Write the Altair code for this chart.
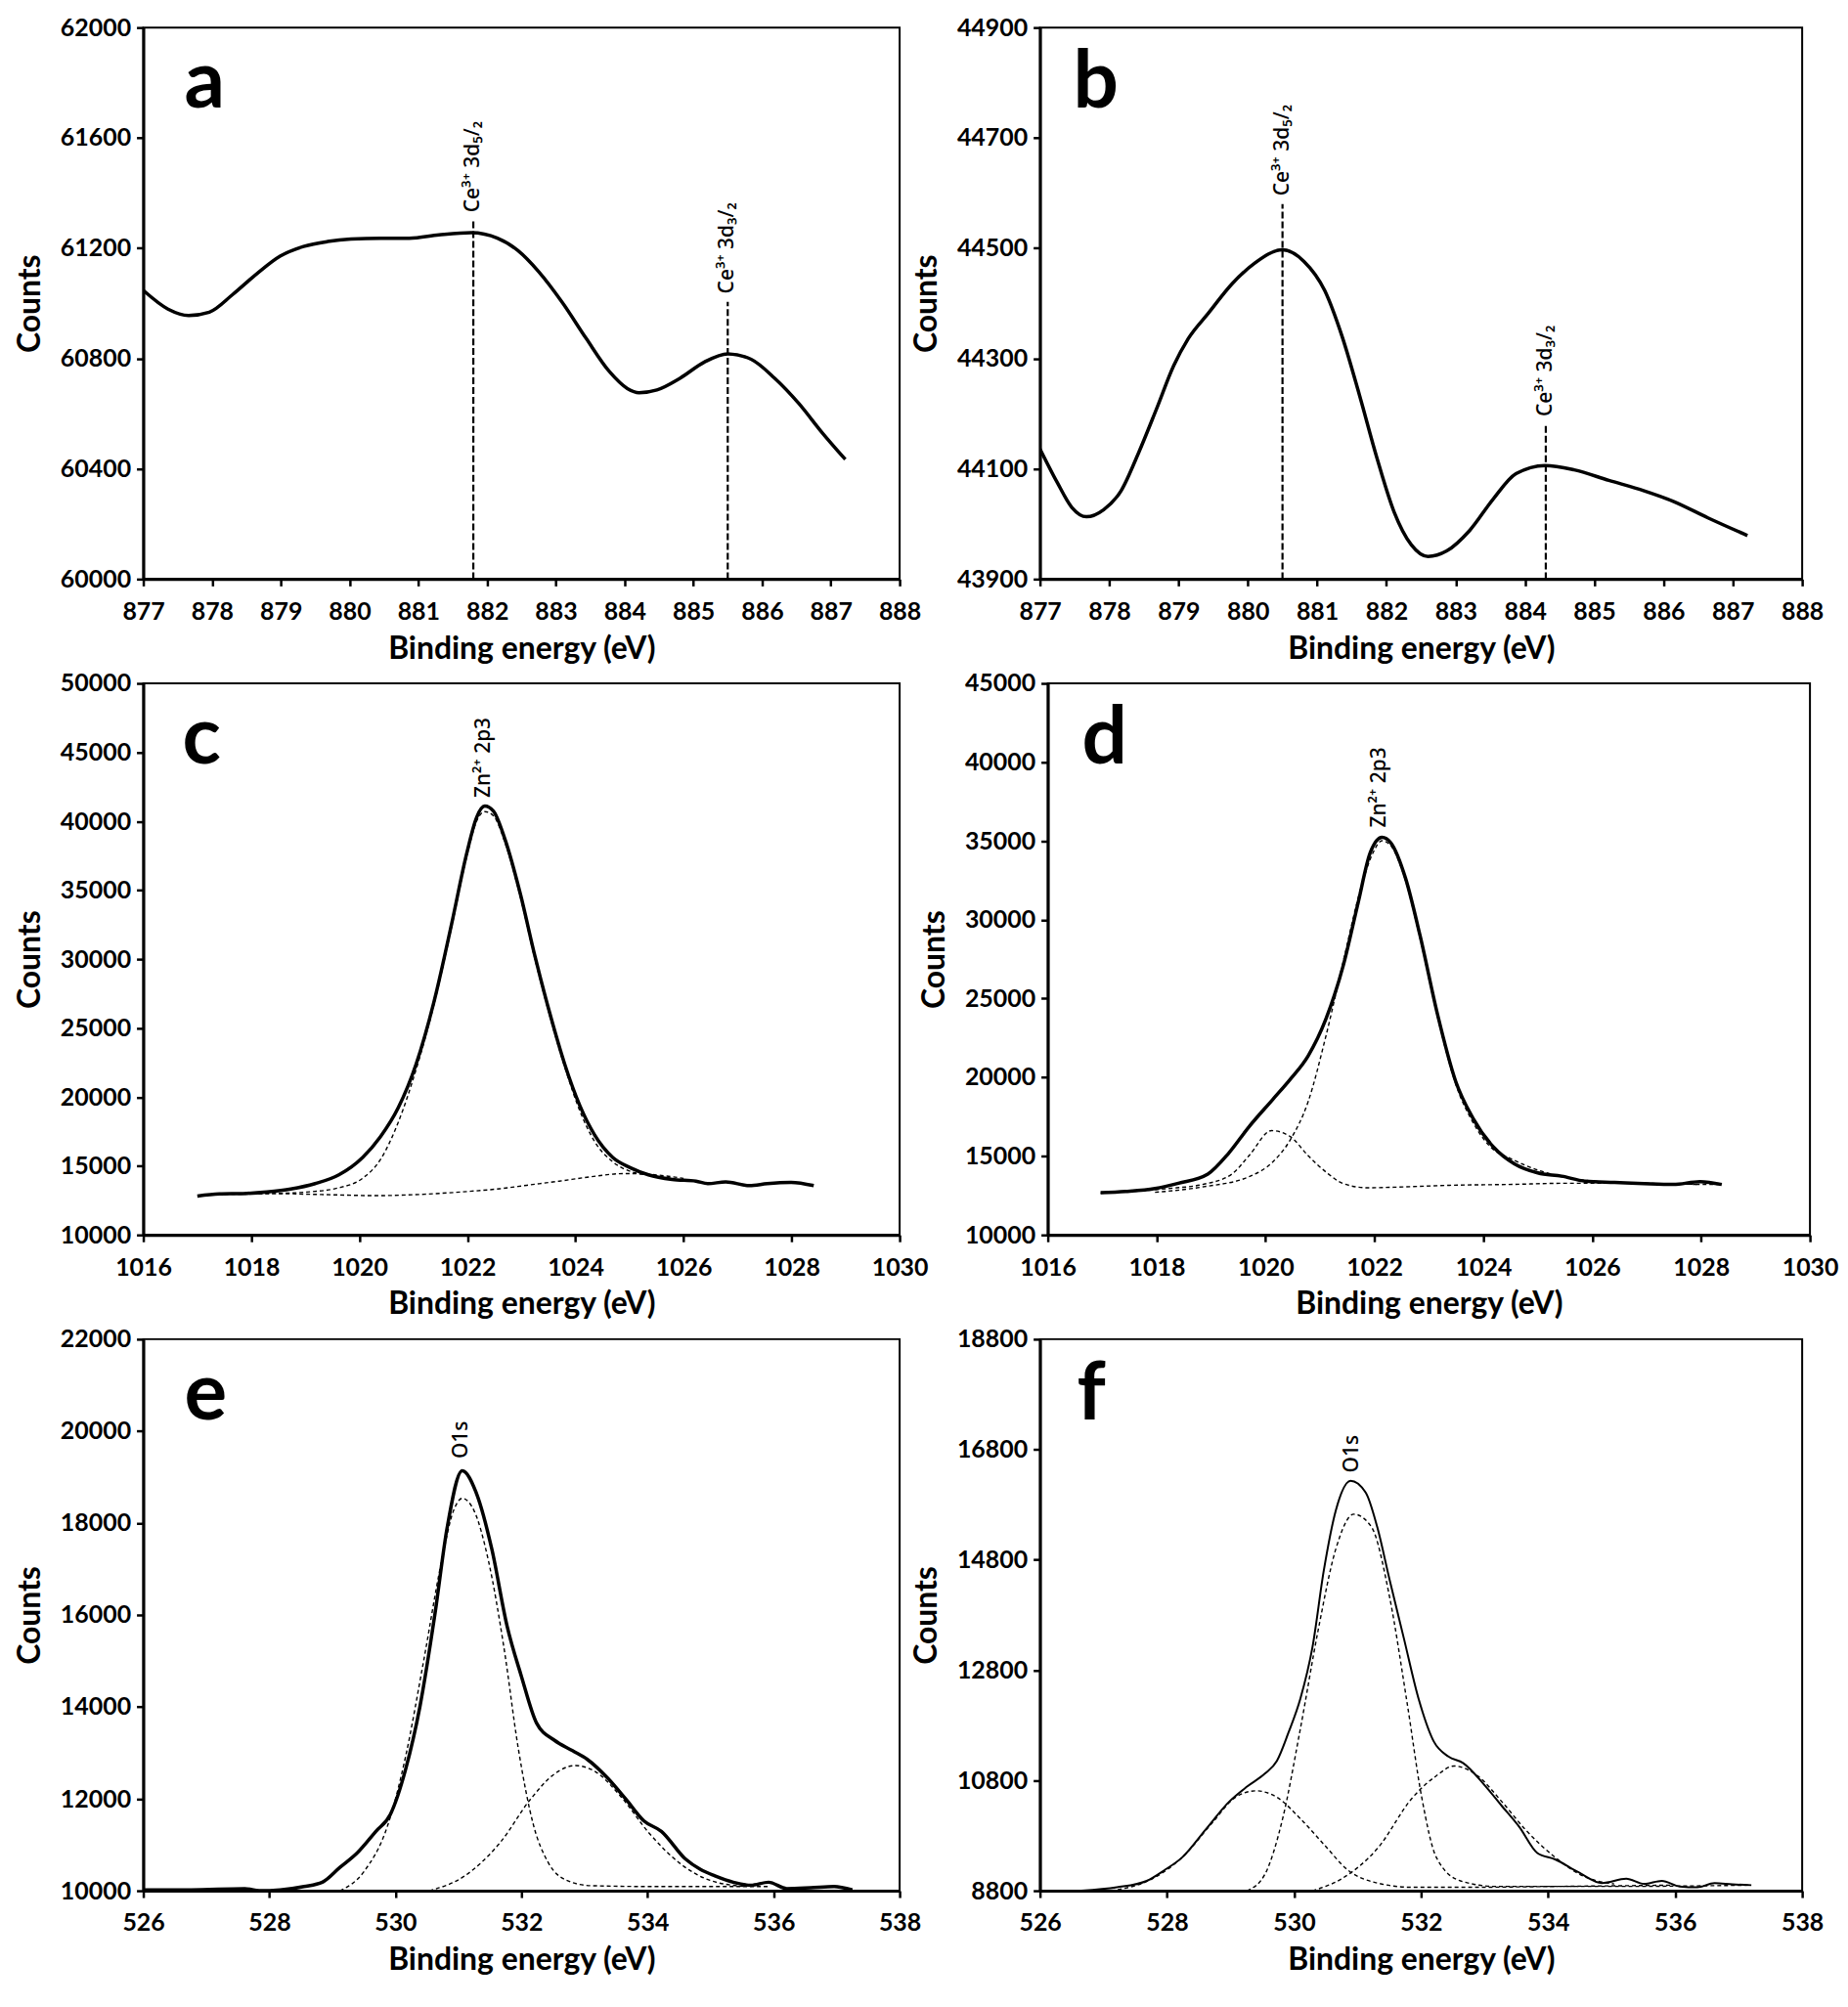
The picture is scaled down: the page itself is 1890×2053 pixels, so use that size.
import altair as alt
import pandas as pd

# ---------------- data ----------------
# panel a
a_x = [877.0, 877.36, 877.66, 877.96, 878.3, 878.65, 878.99, 879.33, 879.68, 880.02, 880.45, 880.87,
       881.3, 881.77, 882.15, 882.45, 882.75, 883.1, 883.44, 883.78, 884.04, 884.21, 884.47, 884.81,
       885.16, 885.5, 885.84, 886.18, 886.53, 886.87, 887.21]
a_y = [61047, 60979, 60956, 60968, 61032, 61107, 61171, 61206, 61224, 61233, 61236, 61236,
       61248, 61256, 61236, 61191, 61115, 61001, 60873, 60752, 60691, 60676, 60686, 60729,
       60787, 60817, 60797, 60729, 60638, 60532, 60434]
a_peak_x = [881.8, 885.5]
a_peak_top = [61300, 61005]
a_label_y = [61330, 61035]
a_labels = ["Ce³⁺ 3d₅/₂", "Ce³⁺ 3d₃/₂"]

# panel b
b_x = [877.0, 877.25, 877.46, 877.67, 877.92, 878.17, 878.42, 878.68, 878.93, 879.14, 879.43, 879.77,
       880.1, 880.5, 880.81, 881.11, 881.36, 881.61, 881.86, 882.11, 882.36, 882.6, 882.87, 883.2,
       883.54, 883.87, 884.29, 884.71, 885.21, 885.72, 886.14, 886.64, 887.21]
b_y = [44136, 44075, 44030, 44013, 44026, 44060, 44128, 44208, 44287, 44336, 44382, 44435,
       44473, 44497, 44476, 44423, 44340, 44234, 44121, 44022, 43962, 43941, 43951, 43988,
       44045, 44091, 44106, 44098, 44079, 44060, 44041, 44011, 43979]
b_peak_x = [880.5, 884.3]
b_peak_top = [44580, 44180]
b_label_y = [44595, 44195]
b_labels = ["Ce³⁺ 3d₅/₂", "Ce³⁺ 3d₃/₂"]

# panel c
c_x = [1017.0, 1017.41, 1017.85, 1018.29, 1018.73, 1019.18, 1019.62, 1020.06, 1020.39, 1020.72, 1021.05,
       1021.38, 1021.71, 1021.99, 1022.17, 1022.32, 1022.48, 1022.7, 1022.98, 1023.25, 1023.53, 1023.8,
       1024.08, 1024.35, 1024.69, 1025.02, 1025.35, 1025.79, 1026.23, 1026.45, 1026.78, 1027.22,
       1027.55, 1027.99, 1028.41]
c_y = [12821, 12970, 13000, 13121, 13331, 13723, 14355, 15618, 17122, 19228, 22387,
       26899, 32614, 37727, 40284, 41096, 40735, 38630, 34720, 30208, 25997, 22387,
       19380, 17274, 15618, 14867, 14355, 14024, 13904, 13723, 13844, 13573,
       13723, 13813, 13573]
c_main_x = [1017.5, 1018.3, 1019.0, 1019.6, 1020.06, 1020.39, 1020.72, 1021.05, 1021.38, 1021.71, 1021.99,
            1022.17, 1022.32, 1022.48, 1022.7, 1022.98, 1023.25, 1023.53, 1023.8, 1024.08, 1024.35,
            1024.69, 1025.02, 1025.35, 1025.8]
c_main_y = [12950, 12990, 13100, 13400, 14114, 15468, 18175, 22000, 26700, 32400, 37500,
            40000, 40700, 40400, 38400, 34500, 30000, 25800, 22200, 19000, 16800,
            15300, 14600, 14350, 14100]
c_bg_x = [1017.5, 1018.4, 1019.3, 1020.3, 1021.2, 1022.0, 1022.6, 1023.1, 1023.7, 1024.25, 1024.9, 1025.5, 1026.0]
c_bg_y = [12960, 13000, 12930, 12850, 12950, 13150, 13350, 13600, 13900, 14200, 14450, 14350, 14100]
c_label_x = [1022.3]
c_label_y = [41700]
c_labels = ["Zn²⁺ 2p3"]

# panel d
d_x = [1016.97, 1017.43, 1017.97, 1018.4, 1018.94, 1019.32, 1019.7, 1020.13, 1020.46, 1020.78, 1021.11,
       1021.43, 1021.7, 1021.92, 1022.14, 1022.3, 1022.57, 1022.84, 1023.16, 1023.49, 1023.81, 1024.19,
       1024.57, 1025.0, 1025.44, 1025.87, 1026.41, 1026.95, 1027.49, 1027.98, 1028.38]
d_y = [12676, 12755, 12939, 13280, 13858, 15172, 16880, 18588, 19902, 21348, 23713,
       27130, 31072, 34225, 35224, 34882, 32648, 28969, 23976, 19771, 17406, 15566,
       14515, 13937, 13726, 13411, 13332, 13254, 13201, 13385, 13201]
d_small_x = [1016.97, 1018.19, 1018.84, 1019.38, 1019.7, 1020.11, 1020.46, 1020.78, 1021.11, 1021.43,
             1021.87, 1022.52, 1023.38, 1024.46, 1025.54, 1026.63, 1027.93]
d_small_y = [12650, 12939, 13201, 13858, 15040, 16617, 16223, 15040, 13990, 13254,
             12992, 13044, 13149, 13201, 13280, 13280, 13201]
d_main_x = [1017.97, 1018.84, 1019.7, 1020.13, 1020.46, 1020.78, 1021.11, 1021.43, 1021.76, 1021.97, 1022.14,
            1022.3, 1022.57, 1022.84, 1023.16, 1023.49, 1023.81, 1024.19, 1024.46, 1025.11, 1025.87,
            1027.16, 1028.36]
d_main_y = [12702, 13044, 13700, 14620, 16065, 18430, 22634, 27392, 32122, 34225, 35014,
            34700, 32500, 28800, 23845, 19600, 17143, 15400, 14909, 13990, 13464,
            13254, 13201]
d_label_x = [1022.1]
d_label_y = [35850]
d_labels = ["Zn²⁺ 2p3"]

# panel e
e_x = [526.0, 526.76, 527.61, 527.84, 528.17, 528.55, 528.84, 529.12, 529.4, 529.69, 529.92, 530.16,
       530.39, 530.63, 530.82, 531.06, 531.29, 531.53, 531.77, 532.0, 532.24, 532.52, 532.81, 533.04,
       533.37, 533.66, 533.94, 534.22, 534.6, 534.84, 535.07, 535.36, 535.64, 535.92, 536.21, 536.59,
       536.96, 537.25]
e_y = [10018, 10018, 10046, 10000, 10018, 10092, 10185, 10508, 10831, 11292, 11662, 12631,
       14015, 16046, 17892, 19138, 18631, 17431, 15769, 14662, 13646, 13277, 13046, 12862,
       12446, 11985, 11523, 11292, 10692, 10462, 10323, 10185, 10120, 10185, 10046, 10065,
       10092, 10018]
e_main_x = [529.12, 529.5, 529.88, 530.16, 530.44, 530.73, 530.92, 531.06, 531.25, 531.48, 531.72, 531.95,
            532.19, 532.43, 532.71, 533.09, 534.03, 534.98, 535.92]
e_main_y = [10000, 10415, 11431, 12908, 14938, 17154, 18262, 18538, 18262, 17154, 15308, 13092,
            11431, 10600, 10231, 10111, 10092, 10092, 10092]
e_side_x = [530.54, 531.1, 531.67, 532.14, 532.52, 532.85, 533.18, 533.56, 534.03, 534.51, 534.98, 535.55]
e_side_y = [10000, 10323, 11062, 11985, 12538, 12723, 12585, 12077, 11246, 10600, 10231, 10092]
e_label_x = [531.05]
e_label_y = [19400]
e_labels = ["O1s"]

# panel f
f_x = [526.65, 527.21, 527.68, 527.96, 528.24, 528.61, 528.98, 529.26, 529.54, 529.73, 529.91, 530.1,
       530.29, 530.47, 530.66, 530.89, 531.13, 531.31, 531.5, 531.73, 531.96, 532.2, 532.43, 532.66,
       532.99, 533.27, 533.55, 533.83, 534.11, 534.48, 534.85, 535.23, 535.51, 535.79, 536.07, 536.35,
       536.62, 536.9, 537.2]
f_y = [8800, 8862, 8979, 9173, 9406, 9912, 10417, 10689, 10922, 11155, 11661, 12283,
       13216, 14616, 15705, 16234, 16016, 15394, 14461, 13372, 12283, 11506, 11233, 11117,
       10728, 10339, 9951, 9484, 9368, 9134, 8940, 9018, 8924, 8979, 8878, 8862,
       8940, 8917, 8901]
f_low_x = [527.12, 527.77, 528.24, 528.71, 529.08, 529.4, 529.73, 530.1, 530.47, 530.85, 531.31, 531.87,
           532.71, 534.11, 535.97]
f_low_y = [8800, 9018, 9406, 10028, 10495, 10612, 10495, 10106, 9640, 9173, 8940, 8862,
           8862, 8878, 8901]
f_main_x = [529.26, 529.54, 529.82, 530.1, 530.38, 530.66, 530.94, 531.22, 531.5, 531.78, 532.01, 532.24,
            532.62, 533.18, 535.04, 537.18]
f_main_y = [8800, 9096, 10106, 11739, 13527, 15005, 15627, 15394, 14150, 12206, 10495, 9406,
            8979, 8878, 8878, 8901]
f_high_x = [530.29, 530.75, 531.31, 531.87, 532.24, 532.52, 532.89, 533.27, 533.64, 534.11, 534.57, 535.04]
f_high_y = [8800, 9018, 9562, 10495, 10884, 11062, 10884, 10417, 9912, 9406, 9057, 8924]
f_label_x = [530.92]
f_label_y = [16380]
f_labels = ["O1s"]

# axis ticks
ce_xticks = list(range(877, 889))
zn_xticks = list(range(1016, 1031, 2))
o_xticks = list(range(526, 539, 2))
a_yticks = list(range(60000, 62001, 400))
b_yticks = list(range(43900, 44901, 200))
c_yticks = list(range(10000, 50001, 5000))
d_yticks = list(range(10000, 45001, 5000))
e_yticks = list(range(10000, 22001, 2000))
f_yticks = list(range(8800, 18801, 2000))

# ---------------- styling ----------------
FONT = "Lato"
ANN_FONT = "Noto Sans"
H = 566


def panel(letter, letter_dx, width, sx, sy, solid_w, comps, xticks, yticks,
          rule_x=None, rule_top=None, ann_x=None, ann_y=None, ann_t=None):
    xs = alt.Scale(domain=[xticks[0], xticks[-1]], nice=False, zero=False)
    ys = alt.Scale(domain=[yticks[0], yticks[-1]], nice=False, zero=False)
    xax = alt.Axis(values=xticks, format="d", title="Binding energy (eV)", labelFlush=False)
    yax = alt.Axis(values=yticks, format="d", title="Counts", labelFlush=False)
    layers = []
    solid = pd.DataFrame({"x": sx, "y": sy})
    layers.append(
        alt.Chart(solid).mark_line(color="black", strokeWidth=solid_w, interpolate="monotone", clip=True)
        .encode(x=alt.X("x:Q", scale=xs, axis=xax), y=alt.Y("y:Q", scale=ys, axis=yax))
    )
    if comps:
        rows = []
        for k, (cx, cy) in enumerate(comps):
            for xv, yv in zip(cx, cy):
                rows.append({"x": xv, "y": yv, "c": k})
        cdf = pd.DataFrame(rows)
        layers.append(
            alt.Chart(cdf).mark_line(color="black", strokeWidth=1.4, strokeDash=[4, 3],
                                     interpolate="monotone", clip=True)
            .encode(x=alt.X("x:Q", scale=xs), y=alt.Y("y:Q", scale=ys), detail="c:N")
        )
    if rule_x:
        rdf = pd.DataFrame({"x": rule_x, "y": [yticks[0]] * len(rule_x), "y2": rule_top})
        layers.append(
            alt.Chart(rdf).mark_rule(color="black", strokeWidth=2.2, strokeDash=[7, 3])
            .encode(x=alt.X("x:Q", scale=xs), y=alt.Y("y:Q", scale=ys), y2="y2:Q")
        )
    if ann_x:
        tdf = pd.DataFrame({"x": ann_x, "y": ann_y, "t": ann_t})
        layers.append(
            alt.Chart(tdf).mark_text(angle=270, align="left", baseline="middle", font=ANN_FONT,
                                     fontSize=21, fontWeight=500, color="black")
            .encode(x=alt.X("x:Q", scale=xs), y=alt.Y("y:Q", scale=ys), text="t:N")
        )
    ldf = pd.DataFrame({"t": [letter]})
    layers.append(
        alt.Chart(ldf).mark_text(align="left", baseline="alphabetic", font=FONT, fontWeight="bold",
                                 fontSize=82, color="black")
        .encode(x=alt.value(letter_dx), y=alt.value(82), text="t:N")
    )
    return alt.layer(*layers).properties(width=width, height=H)


WL = 776
WR = 782

pa = panel("a", 42, WL, a_x, a_y, 3.5, None, ce_xticks, a_yticks,
           a_peak_x, a_peak_top, a_peak_x, a_label_y, a_labels)
pb = panel("b", 34, WR, b_x, b_y, 3.5, None, ce_xticks, b_yticks,
           b_peak_x, b_peak_top, b_peak_x, b_label_y, b_labels)
pc = panel("c", 40, WL, c_x, c_y, 3.5, [(c_main_x, c_main_y), (c_bg_x, c_bg_y)], zn_xticks, c_yticks,
           None, None, c_label_x, c_label_y, c_labels)
pd_ = panel("d", 35, WR, d_x, d_y, 3.5, [(d_small_x, d_small_y), (d_main_x, d_main_y)], zn_xticks, d_yticks,
            None, None, d_label_x, d_label_y, d_labels)
pe = panel("e", 42, WL, e_x, e_y, 3.5, [(e_main_x, e_main_y), (e_side_x, e_side_y)], o_xticks, e_yticks,
           None, None, e_label_x, e_label_y, e_labels)
pf = panel("f", 38, WR, f_x, f_y, 2.0, [(f_low_x, f_low_y), (f_main_x, f_main_y), (f_high_x, f_high_y)],
           o_xticks, f_yticks, None, None, f_label_x, f_label_y, f_labels)

row1 = alt.hconcat(pa, pb, spacing=-12)
row2 = alt.hconcat(pc, pd_, spacing=-12)
row3 = alt.hconcat(pe, pf, spacing=-12)

chart = (
    alt.vconcat(row1, row2, row3, spacing=6)
    .properties(padding={"left": 6, "top": 4, "right": 0, "bottom": 5}, background="white")
    .configure_view(stroke="black", strokeWidth=2)
    .configure_axis(
        grid=False,
        labelFont=FONT, labelFontSize=25, labelFontWeight="bold", labelColor="black",
        titleFont=FONT, titleFontSize=32, titleFontWeight="bold", titleColor="black",
        domainColor="black", domainWidth=3, tickColor="black", tickWidth=2.5, tickSize=7,
        labelOverlap=False,
    )
    .configure_axisX(labelPadding=14, titlePadding=10)
    .configure_axisY(labelPadding=6, titlePadding=11, minExtent=88, maxExtent=88)
)

chart.save("out.html", embed_options={"renderer": "svg", "actions": False})
